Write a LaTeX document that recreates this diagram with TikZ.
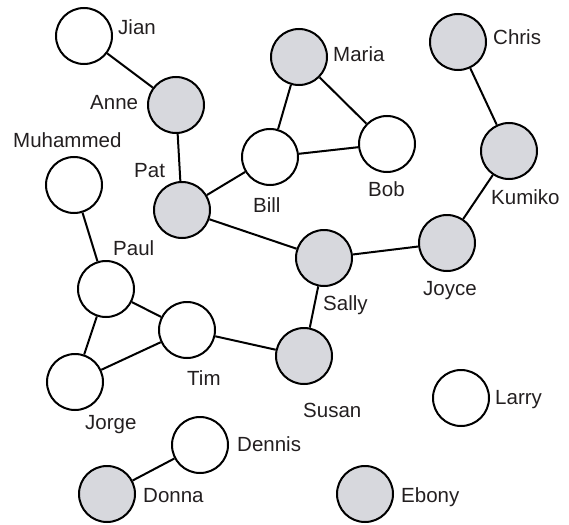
\documentclass[tikz,border=0pt]{standalone}
\usepackage{fontspec}
\setmainfont{Liberation Sans}
\definecolor{nodegray}{RGB}{215,216,221}
\definecolor{textgray}{RGB}{35,31,32}
\begin{document}
\begin{tikzpicture}[x=1pt,y=-1pt,
  personw/.style={circle,draw=black,line width=2pt,minimum size=56pt,inner sep=0pt,fill=white},
  persong/.style={personw,fill=nodegray},
  plabel/.style={anchor=base west,inner sep=0pt,font=\fontsize{20.5}{24}\selectfont,text=textgray},
  link/.style={line width=2pt}]
\useasboundingbox (0,0) rectangle (569,524);
% people
\node[personw] (jian) at (84,36) {};
\node[persong] (anne) at (176,105) {};
\node[personw] (muhammed) at (74,185) {};
\node[persong] (pat) at (182,210) {};
\node[personw] (bill) at (270,157) {};
\node[persong] (maria) at (299,57) {};
\node[personw] (bob) at (387,144) {};
\node[persong] (chris) at (458,42) {};
\node[persong] (kumiko) at (509,151) {};
\node[persong] (joyce) at (447,243) {};
\node[persong] (sally) at (324,258) {};
\node[personw] (paul) at (106,289) {};
\node[personw] (tim) at (187,330) {};
\node[persong] (susan) at (304,356) {};
\node[personw] (jorge) at (75,382) {};
\node[personw] (larry) at (461,398) {};
\node[personw] (dennis) at (200,445) {};
\node[persong] (donna) at (107,494) {};
\node[persong] (ebony) at (365,494) {};
% labels
\node[plabel] (jianl) at (118,35) {Jian};
\node[plabel] (annel) at (90,109) {Anne};
\node[plabel] (muhammedl) at (13,147) {Muhammed};
\node[plabel] (patl) at (134,177) {Pat};
\node[plabel] (billl) at (253,212) {Bill};
\node[plabel] (marial) at (333,62) {Maria};
\node[plabel] (bobl) at (368,196) {Bob};
\node[plabel] (chrisl) at (493,45) {Chris};
\node[plabel] (kumikol) at (491,204) {Kumiko};
\node[plabel] (joycel) at (423,295) {Joyce};
\node[plabel] (sallyl) at (323,310) {Sally};
\node[plabel] (paull) at (113,255) {Paul};
\node[plabel] (timl) at (187,385) {Tim};
\node[plabel] (jorgel) at (85,429) {Jorge};
\node[plabel] (susanl) at (303,417) {Susan};
\node[plabel] (larryl) at (495,404) {Larry};
\node[plabel] (dennisl) at (237,451) {Dennis};
\node[plabel] (donnal) at (143,502) {Donna};
\node[plabel] (ebonyl) at (401,502) {Ebony};
% links
\draw[link] (jian) -- (anne);
\draw[link] (anne) -- (pat);
\draw[link] (pat) -- (bill);
\draw[link] (pat) -- (sally);
\draw[link] (maria) -- (bill);
\draw[link] (maria) -- (bob);
\draw[link] (bill) -- (bob);
\draw[link] (sally) -- (joyce);
\draw[link] (joyce) -- (kumiko);
\draw[link] (kumiko) -- (chris);
\draw[link] (sally) -- (susan);
\draw[link] (susan) -- (tim);
\draw[link] (tim) -- (paul);
\draw[link] (tim) -- (jorge);
\draw[link] (paul) -- (jorge);
\draw[link] (paul) -- (muhammed);
\draw[link] (dennis) -- (donna);
\end{tikzpicture}
\end{document}
